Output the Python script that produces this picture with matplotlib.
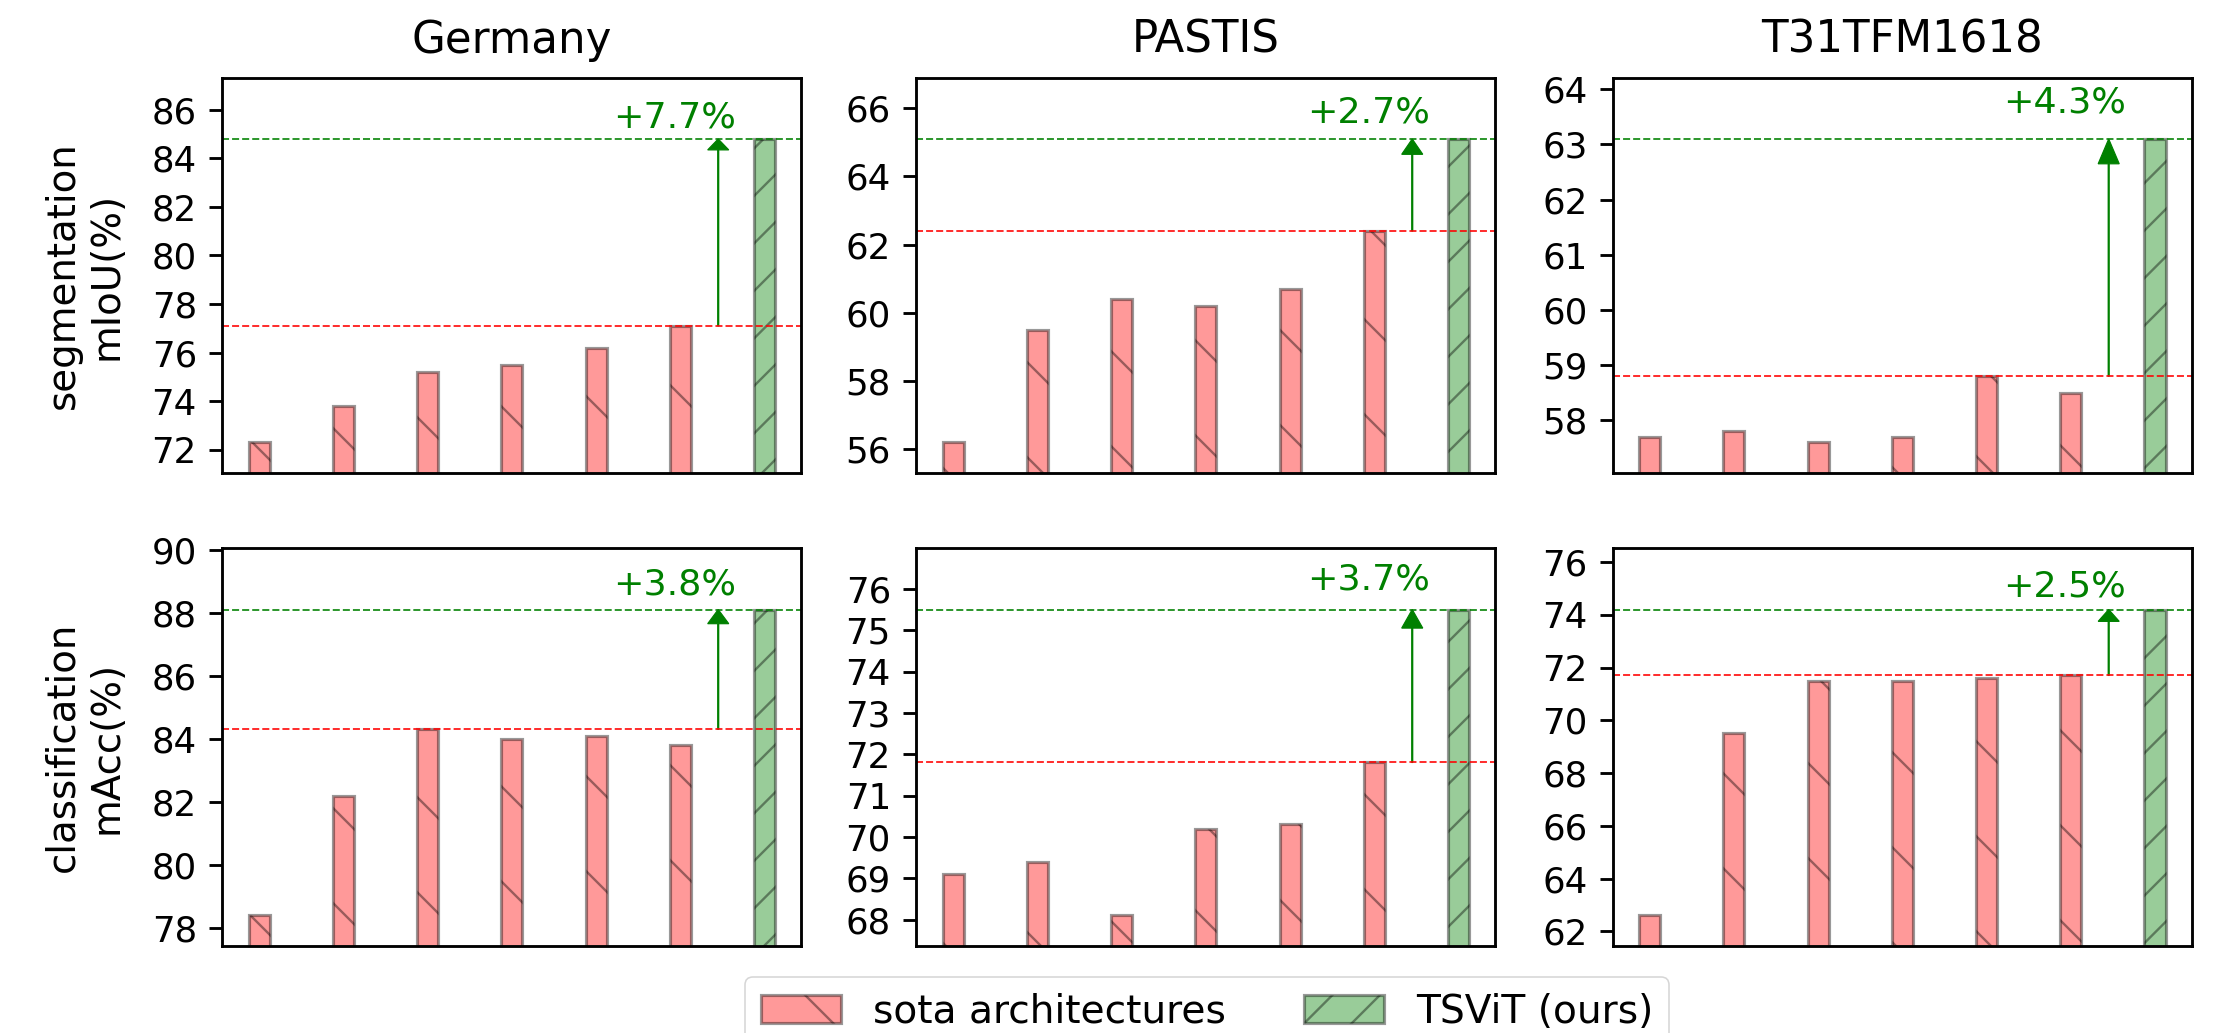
import matplotlib
matplotlib.use("Agg")
import matplotlib.pyplot as plt
from matplotlib.ticker import MultipleLocator
import numpy as np

# ---------------- data ----------------
datasets = ["Germany", "PASTIS", "T31TFM1618"]
row_labels = ["segmentation\nmIoU(%)", "classification\nmAcc(%)"]

germany_seg_sota = [72.3, 73.8, 75.2, 75.5, 76.2, 77.1]
germany_seg_tsvit = 84.8
pastis_seg_sota = [56.2, 59.5, 60.4, 60.2, 60.7, 62.4]
pastis_seg_tsvit = 65.1
t31_seg_sota = [57.7, 57.8, 57.6, 57.7, 58.8, 58.5]
t31_seg_tsvit = 63.1

germany_cls_sota = [78.4, 82.2, 84.3, 84.0, 84.1, 83.8]
germany_cls_tsvit = 88.1
pastis_cls_sota = [69.1, 69.4, 68.1, 70.2, 70.3, 71.8]
pastis_cls_tsvit = 75.5
t31_cls_sota = [62.6, 69.5, 71.5, 71.5, 71.6, 71.7]
t31_cls_tsvit = 74.2

legend_labels = ["sota architectures", "TSViT (ours)"]
tick_steps = [[2, 2, 1], [2, 1, 2]]

panels = [
    [(germany_seg_sota, germany_seg_tsvit), (pastis_seg_sota, pastis_seg_tsvit), (t31_seg_sota, t31_seg_tsvit)],
    [(germany_cls_sota, germany_cls_tsvit), (pastis_cls_sota, pastis_cls_tsvit), (t31_cls_sota, t31_cls_tsvit)],
]

# ---------------- style ----------------
DPI = 570
plt.rcParams["font.family"] = ["DejaVu Sans"]
plt.rcParams["hatch.linewidth"] = 0.3
plt.rcParams["axes.linewidth"] = 0.36
plt.rcParams["ytick.major.width"] = 0.36
plt.rcParams["ytick.major.size"] = 1.6
plt.rcParams["ytick.major.pad"] = 1.6
plt.rcParams["ytick.labelsize"] = 4.5

fig = plt.figure(figsize=(2223 / DPI, 1033 / DPI), dpi=DPI)

lefts = [0.1000, 0.4122, 0.7255]
width = 0.2605
bottoms = [0.5424, 0.0842]
heights = [0.3818, 0.385]

handles = None
for r in range(2):
    for c in range(3):
        sota, tsvit = panels[r][c]
        ax = fig.add_axes([lefts[c], bottoms[r], width, heights[r]])
        x = np.arange(len(sota) + 1)
        b1 = ax.bar(x[:-1], sota, width=0.25, color="red", alpha=0.4,
                    edgecolor="black", linewidth=0.4, hatch="\\\\",
                    label=legend_labels[0])
        b2 = ax.bar(x[-1:], [tsvit], width=0.25, color="green", alpha=0.4,
                    edgecolor="black", linewidth=0.4, hatch="////",
                    label=legend_labels[1])
        if handles is None:
            handles = [b1, b2]
        best = max(sota)
        lo = min(sota + [tsvit])
        hi = max(sota + [tsvit])
        rng = hi - lo
        ax.set_ylim(lo - 0.1 * rng, hi + 0.2 * rng)
        ax.axhline(best, color="red", ls="--", lw=0.24, alpha=0.85)
        ax.axhline(tsvit, color="green", ls="--", lw=0.24, alpha=0.85)
        ax.arrow(5.45, best, 0, tsvit - best, width=0.012, head_width=0.25,
                 head_length=0.45, length_includes_head=True,
                 color="green", lw=0.15)
        ax.text(4.93, tsvit + 0.48, f"+{tsvit - best:.1f}%", ha="center",
                va="baseline", color="green", fontsize=4.6)
        ax.yaxis.set_major_locator(MultipleLocator(tick_steps[r][c]))
        ax.set_xticks([])
        if r == 0:
            ax.set_title(datasets[c], fontsize=5.5, pad=3.2)
        if c == 0:
            ax.set_ylabel(row_labels[r], fontsize=4.9, labelpad=3.3)

leg = fig.legend(handles, legend_labels, loc="upper center",
                 bbox_to_anchor=(0.5430, 0.0542), ncol=2, fontsize=4.95,
                 handlelength=2.05, columnspacing=2.0, borderaxespad=0.0,
                 frameon=True)
leg.get_frame().set_linewidth(0.2)

fig.savefig("out.png", dpi=DPI)
